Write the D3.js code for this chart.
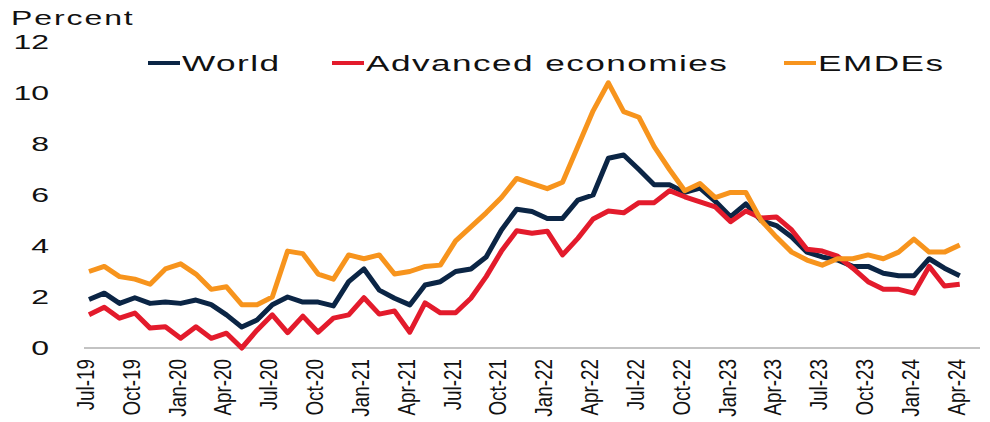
<!DOCTYPE html>
<html>
<head>
<meta charset="utf-8">
<title>Inflation: World, Advanced economies, EMDEs</title>
<style>
    body { margin: 0; background: #fff; }
    svg text { font-family: "Liberation Sans", Arial, sans-serif; fill: #111; }
    .series { fill: none; stroke-width: 5px; stroke-linejoin: round; }
    .xlab { font-size: 23px; }
</style>
</head>
<body>
<script src="https://cdn.jsdelivr.net/npm/d3@7"></script>
<script>

var W = 990, H = 422;
var SX = 1.6; // reference text is stretched sideways

// monthly data, Jul-19 .. Apr-24
var startMonth = new Date(2019, 6, 1), endMonth = new Date(2024, 4, 1);
var tickLabels = ["Jul-19","Oct-19","Jan-20","Apr-20","Jul-20","Oct-20","Jan-21","Apr-21","Jul-21","Oct-21",
                  "Jan-22","Apr-22","Jul-22","Oct-22","Jan-23","Apr-23","Jul-23","Oct-23","Jan-24","Apr-24"];
var yTicks = [0, 2, 4, 6, 8, 10, 12];

var world = [1.9,2.15,1.75,1.97,1.75,1.8,1.75,1.88,1.7,1.3,0.82,1.1,1.7,2.0,1.8,1.8,
             1.65,2.6,3.1,2.27,1.95,1.69,2.47,2.6,3.0,3.1,3.57,4.63,5.44,5.35,5.08,5.08,5.8,6.0,7.44,
             7.57,7.0,6.4,6.4,6.1,6.27,5.75,5.15,5.65,5.0,4.8,4.35,3.76,3.57,3.45,3.2,3.2,2.93,2.83,2.83,3.5,3.13,2.83];
var advanced = [1.3,1.6,1.17,1.37,0.78,0.83,0.38,0.83,0.38,0.58,0.0,0.7,1.3,0.6,1.25,0.62,
                1.17,1.3,1.97,1.33,1.45,0.62,1.77,1.38,1.38,1.95,2.8,3.8,4.6,4.5,4.58,3.65,4.3,5.06,5.37,
                5.3,5.7,5.7,6.17,5.93,5.73,5.53,4.95,5.37,5.1,5.14,4.63,3.87,3.8,3.6,3.13,2.6,2.3,2.3,2.15,3.2,2.43,2.5];
var emdes = [3.0,3.2,2.8,2.7,2.5,3.1,3.3,2.9,2.3,2.4,1.7,1.7,2.0,3.8,3.7,2.9,
             2.7,3.65,3.5,3.65,2.9,3.0,3.2,3.25,4.2,4.75,5.3,5.9,6.65,6.45,6.25,6.5,7.9,9.3,10.4,
             9.27,9.05,7.9,7.0,6.17,6.45,5.9,6.1,6.1,5.0,4.35,3.76,3.45,3.25,3.5,3.5,3.65,3.5,3.76,4.27,3.76,3.76,4.04];

var seriesNames = ["World", "Advanced economies", "EMDEs"];
var seriesColors = ["#0b2545", "#e31b2c", "#f7941d"];
var seriesData = [world, advanced, emdes];

var months = d3.timeMonth.range(startMonth, d3.timeMonth.offset(endMonth, 1));
var fmt = d3.timeFormat("%b-%y");

var x = d3.scalePoint().domain(months.map(fmt)).range([89, 975]);
var y = d3.scaleLinear().domain([0, 12]).range([348, 42]);

var svg = d3.select("body").append("svg")
        .attr("width", W)
        .attr("height", H);

// helper: text widened like the reference
function wideText(g, tx, ty, str, size, anchor) {
    return g.append("text")
        .attr("transform", "translate(" + tx + "," + ty + ") scale(" + SX + ",1)")
        .attr("text-anchor", anchor || "start")
        .style("font-size", size + "px")
        .text(str);
}

// y title
wideText(svg, 11, 25, "Percent", 20).style("letter-spacing", "1.2px");

// y tick labels
yTicks.forEach(function(t) {
    wideText(svg, 49, y(t) + 7, t, 20, "end");
});

// baseline
svg.append("line")
        .attr("x1", 84).attr("x2", 980)
        .attr("y1", y(0)).attr("y2", y(0))
        .attr("stroke", "#888").attr("stroke-width", 1.2);

// x labels (a bit condensed along the text)
svg.selectAll(".xlab")
        .data(tickLabels)
        .enter().append("text")
        .attr("class", "xlab")
        .attr("text-anchor", "end")
        .attr("transform", function(d) { return "translate(" + (x(d) + 5) + "," + 359 + ") rotate(-90) scale(0.82,1)"; })
        .text(function(d) { return d; });

// series lines
var line = d3.line()
        .x(function(d, i) { return x(fmt(months[i])); })
        .y(function(d) { return y(d); });

svg.selectAll(".series")
        .data(seriesData)
        .enter().append("path")
        .attr("class", "series")
        .attr("stroke", function(d, i) { return seriesColors[i]; })
        .attr("d", line);

// legend
var legendX = [148, 332, 784];
seriesNames.forEach(function(name, i) {
    svg.append("line")
        .attr("x1", legendX[i]).attr("x2", legendX[i] + 32)
        .attr("y1", 63).attr("y2", 63)
        .attr("stroke", seriesColors[i]).attr("stroke-width", 4);
    wideText(svg, legendX[i] + 34, 71, name, 22)
        .style("letter-spacing", "0.9px");
});

</script>
</body>
</html>
